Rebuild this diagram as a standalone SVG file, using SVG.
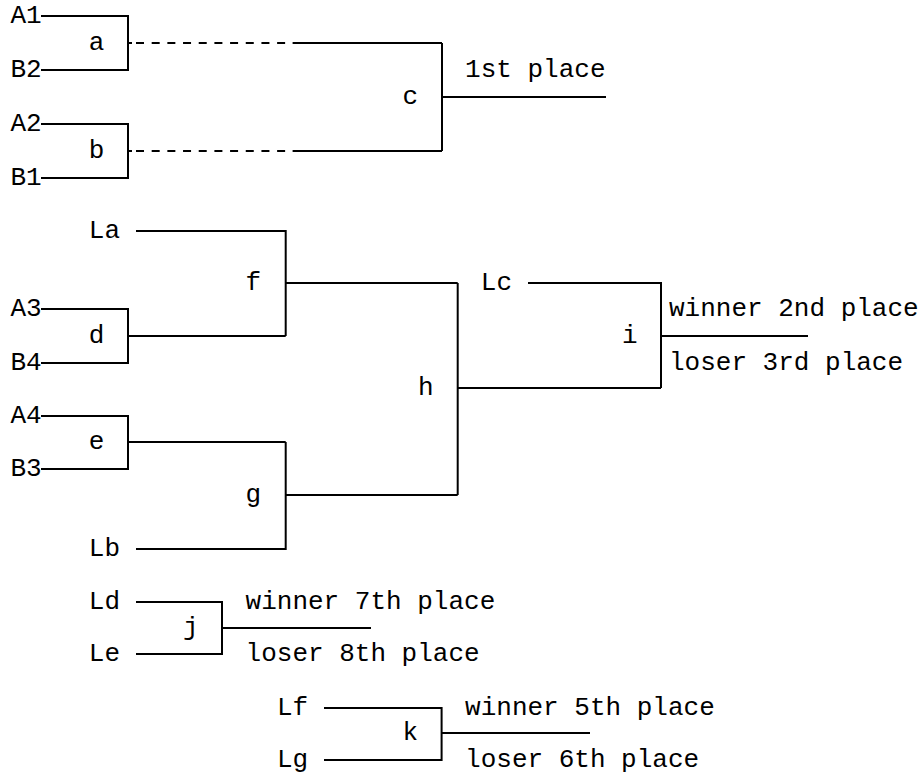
<svg xmlns="http://www.w3.org/2000/svg" width="924" height="778" viewBox="0 0 924 778">
<style>
text{font-family:"Courier New","Liberation Mono",monospace;font-size:26px;fill:#000}
.ln{fill:none;stroke:#000;stroke-width:2}
.dash{fill:none;stroke:#000;stroke-width:2;stroke-dasharray:8 7.68}
</style>
<rect width="924" height="778" fill="#fff"/>
<g id="connectors">
<path class="ln" d="M128,43H132M292.6,43H442"/>
<path class="dash" d="M136,43H292.6"/>
<path class="ln" d="M128,151H132M292.6,151H442"/>
<path class="dash" d="M136,151H292.6"/>
<path class="ln" d="M442,97H606"/>
<path class="ln" d="M128,336H285.7M285.7,283H457.7"/>
<path class="ln" d="M128,442H285.7M285.7,495H457.7"/>
<path class="ln" d="M457.7,388H661"/>
<path class="ln" d="M661,336H808"/>
<path class="ln" d="M222,628H371"/>
<path class="ln" d="M441.6,733H590"/>
</g>
<g id="match-a"><path class="ln" d="M41,16H128V70H41"/><text x="10.4" y="23">A1</text><text x="10.4" y="77">B2</text><text x="88.8" y="50">a</text></g>
<g id="match-b"><path class="ln" d="M41,124H128V178H41"/><text x="10.4" y="131">A2</text><text x="10.4" y="185">B1</text><text x="88.8" y="158">b</text></g>
<g id="match-c"><path class="ln" d="M442,43V151"/><text x="402.4" y="104">c</text><text x="465.1" y="77">1st place</text></g>
<g id="match-d"><path class="ln" d="M41,309H128V363H41"/><text x="10.4" y="316">A3</text><text x="10.4" y="370">B4</text><text x="88.8" y="343">d</text></g>
<g id="match-f"><path class="ln" d="M136,231H285.7V336"/><text x="88.8" y="238">La</text><text x="245.6" y="290">f</text></g>
<g id="match-e"><path class="ln" d="M41,416H128V469H41"/><text x="10.4" y="423">A4</text><text x="10.4" y="476">B3</text><text x="88.8" y="449">e</text></g>
<g id="match-g"><path class="ln" d="M136,549H285.7V442"/><text x="88.8" y="556">Lb</text><text x="245.6" y="502">g</text></g>
<g id="match-h"><path class="ln" d="M457.7,283V495"/><text x="418" y="395">h</text></g>
<g id="match-i"><path class="ln" d="M528,283H661V388"/><text x="480.8" y="290">Lc</text><text x="621.9" y="343">i</text><text x="669" y="316">winner 2nd place</text><text x="669" y="370">loser 3rd place</text></g>
<g id="match-j"><path class="ln" d="M136,602H222V654H136"/><text x="88.8" y="609">Ld</text><text x="88.8" y="661">Le</text><text x="182.9" y="635">j</text><text x="245.6" y="609">winner 7th place</text><text x="245.6" y="661">loser 8th place</text></g>
<g id="match-k"><path class="ln" d="M324,708H441.6V760H324"/><text x="277" y="715">Lf</text><text x="277" y="767">Lg</text><text x="402.4" y="740">k</text><text x="465.1" y="715">winner 5th place</text><text x="465.1" y="767">loser 6th place</text></g>
</svg>
